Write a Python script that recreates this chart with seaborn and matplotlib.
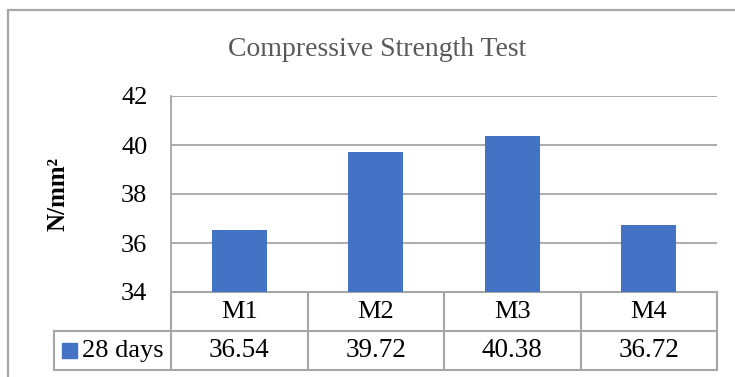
import matplotlib.pyplot as plt
import matplotlib.transforms as mtransforms
import seaborn as sns

# data
materials = ["M1", "M2", "M3", "M4"]
strength_28d = [36.54, 39.72, 40.38, 36.72]
series_name = "28 days"
y_ticks = [34, 36, 38, 40, 42]

BAR_COLOR = "#4472C4"
LINE_COLOR = "#A6A6A6"
W, H = 735, 377


def main() -> None:
    sns.set_theme(style="white")
    plt.rcParams["font.family"] = ["Liberation Serif", "DejaVu Serif"]

    fig = plt.figure(figsize=(W / 100, H / 100), dpi=100)
    fig.patch.set_facecolor("white")

    # outer chart border (cut off on the right and bottom)
    fig.add_artist(plt.Line2D([8 / W, 8 / W], [0, 1 - 10 / H], transform=fig.transFigure,
                              color=LINE_COLOR, lw=1.6))
    fig.add_artist(plt.Line2D([8 / W, 1], [1 - 10 / H, 1 - 10 / H], transform=fig.transFigure,
                              color=LINE_COLOR, lw=1.6))

    left, right, top, bottom = 171, 717, 96, 292
    ax = fig.add_axes([left / W, 1 - bottom / H, (right - left) / W, (bottom - top) / H])
    sns.barplot(x=materials, y=strength_28d, color=BAR_COLOR, width=0.4,
                saturation=1, linewidth=0, ax=ax, zorder=3)
    ax.set_ylim(y_ticks[0], y_ticks[-1])
    ax.set_xlim(-0.5, len(materials) - 0.5)
    ax.set_yticks(y_ticks)
    ax.set_yticklabels([str(t) for t in y_ticks], fontsize=19, color="black")
    ax.set_xticks([])
    ax.set_xlabel("")
    ax.set_ylabel("")
    ax.tick_params(axis="y", length=0, pad=17)
    ax.yaxis.grid(True, color=LINE_COLOR, lw=1.3)
    ax.set_axisbelow(True)
    for side in ["top", "right", "bottom"]:
        ax.spines[side].set_visible(False)
    ax.spines["left"].set_color(LINE_COLOR)
    ax.spines["left"].set_linewidth(1.3)

    fig.text(58 / W, 1 - (top + bottom) / 2 / H, "N/mm²", rotation=90,
             ha="center", va="center", fontsize=18, fontweight="bold", color="black")
    fig.text(377 / W, 1 - 49 / H, "Compressive Strength Test",
             ha="center", va="center", fontsize=20, color="#595959")

    # data table under the plot
    trans = mtransforms.blended_transform_factory(ax.transData, ax.transAxes)
    row_h = 39 / (bottom - top)
    x_leg = -0.5 - (left - 54) / ((right - left) / len(materials))
    n = len(materials)
    lkw = dict(transform=trans, color=LINE_COLOR, lw=1.5, clip_on=False)
    ax.plot([-0.5, n - 0.5], [0, 0], **lkw)
    ax.plot([x_leg, n - 0.5], [-row_h, -row_h], **lkw)
    ax.plot([x_leg, n - 0.5], [-2 * row_h, -2 * row_h], **lkw)
    for i in range(n + 1):
        ax.plot([i - 0.5, i - 0.5], [0, -2 * row_h], **lkw)
    ax.plot([x_leg, x_leg], [-row_h, -2 * row_h], **lkw)

    for i, (m, v) in enumerate(zip(materials, strength_28d)):
        ax.text(i, -0.5 * row_h, m, transform=trans, ha="center", va="center",
                fontsize=19, color="black")
        ax.text(i, -1.5 * row_h, f"{v:.2f}", transform=trans, ha="center", va="center",
                fontsize=19.5, color="black")

    # legend key in the table
    fig.patches.append(plt.Rectangle((62 / W, 1 - 358 / H), 15 / W, 15 / H,
                                     transform=fig.transFigure, color=BAR_COLOR))
    fig.text(82 / W, 1 - 351 / H, series_name, ha="left", va="center",
             fontsize=19, color="black")

    fig.savefig("out.png", dpi=100, facecolor="white")


if __name__ == "__main__":
    main()
